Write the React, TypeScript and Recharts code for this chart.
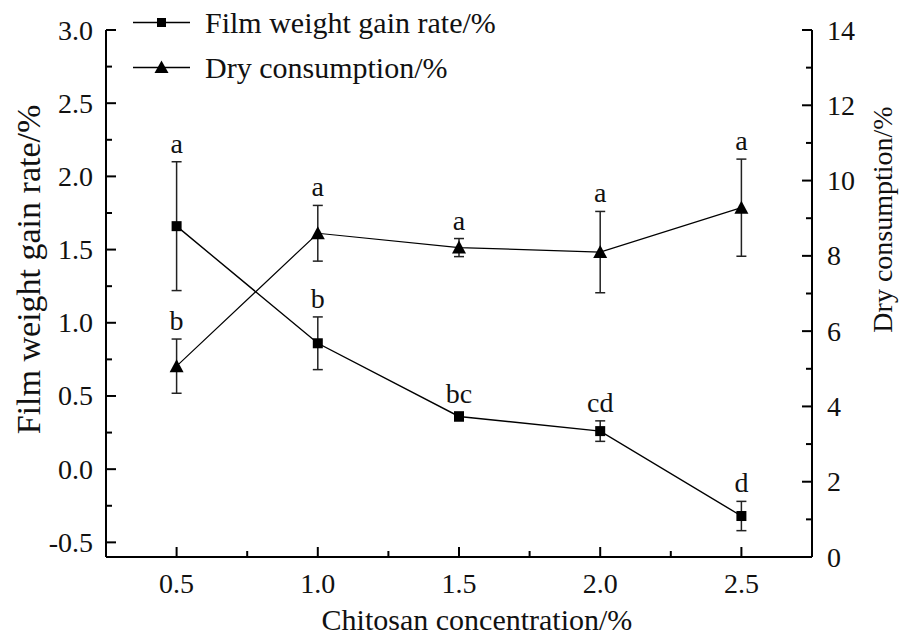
import React from 'react';
import { ComposedChart, Line, XAxis, YAxis, ErrorBar, Legend } from 'recharts';

// values
const concentrations = [0.5, 1.0, 1.5, 2.0, 2.5];
const filmGain = [1.66, 0.86, 0.36, 0.26, -0.32];
const filmGainErr = [0.44, 0.18, 0.03, 0.07, 0.1];
const filmLetters = ['a', 'b', 'bc', 'cd', 'd'];
const dryConsumption = [5.07, 8.6, 8.22, 8.1, 9.28];
const dryErr = [0.72, 0.74, 0.24, 1.08, 1.29];
const dryLetters = ['b', 'a', 'a', 'a', 'a'];

const seriesNames = ['Film weight gain rate/%', 'Dry consumption/%'];

const xTicks = [0.5, 0.75, 1.0, 1.25, 1.5, 1.75, 2.0, 2.25, 2.5];
const xLabels = [0.5, 1.0, 1.5, 2.0, 2.5];
const leftTicks = [-0.5, -0.25, 0, 0.25, 0.5, 0.75, 1.0, 1.25, 1.5, 1.75, 2.0, 2.25, 2.5, 2.75, 3.0];
const leftLabels = [-0.5, 0, 0.5, 1.0, 1.5, 2.0, 2.5, 3.0];
const rightTicks = [0, 1, 2, 3, 4, 5, 6, 7, 8, 9, 10, 11, 12, 13, 14];
const rightLabels = [0, 2, 4, 6, 8, 10, 12, 14];

const data = concentrations.map((c, i) => ({
    c,
    film: filmGain[i],
    filmErr: filmGainErr[i],
    filmTop: filmGain[i] + filmGainErr[i],
    dry: dryConsumption[i],
    dryErr: dryErr[i],
    dryTop: dryConsumption[i] + dryErr[i],
}));

const FONT = '"Liberation Serif", "Times New Roman", serif';
const INK = '#111';
const txt = (size: number) => ({ fontFamily: FONT, fontSize: size, fill: INK });

const isIn = (v: number, list: number[]) => list.some((m) => Math.abs(m - v) < 1e-6);

const LeftTick = (props: any) => {
    const { x, y, payload } = props;
    const major = isIn(payload.value, leftLabels);
    const ax = x + 13;
    return (
        <g>
            <line x1={ax} x2={ax + (major ? 10 : 6)} y1={y} y2={y} stroke="#000" strokeWidth={2} />
            {major && (
                <text x={x} y={y} textAnchor="end" dominantBaseline="central" style={txt(28)}>
                    {payload.value.toFixed(1)}
                </text>
            )}
        </g>
    );
};

const RightTick = (props: any) => {
    const { x, y, payload } = props;
    const major = isIn(payload.value, rightLabels);
    const ax = x - 15;
    return (
        <g>
            <line x1={ax} x2={ax - (major ? 10 : 6)} y1={y} y2={y} stroke="#000" strokeWidth={2} />
            {major && (
                <text x={x} y={y} textAnchor="start" dominantBaseline="central" style={txt(28)}>
                    {payload.value}
                </text>
            )}
        </g>
    );
};

const BottomTick = (props: any) => {
    const { x, y, payload } = props;
    const major = isIn(payload.value, xLabels);
    const ay = y - 26;
    return (
        <g>
            <line x1={x} x2={x} y1={ay} y2={ay - (major ? 10 : 6)} stroke="#000" strokeWidth={2} />
            {major && (
                <text x={x} y={y} textAnchor="middle" dominantBaseline="central" style={txt(28)}>
                    {payload.value.toFixed(1)}
                </text>
            )}
        </g>
    );
};

const SquareDot = (props: any) => {
    const { cx, cy, index } = props;
    if (cx == null || cy == null) return <g key={`sq-${index}`} />;
    return <rect key={`sq-${index}`} x={cx - 5} y={cy - 5} width={10} height={10} fill="#000" />;
};

const TriangleDot = (props: any) => {
    const { cx, cy, index } = props;
    if (cx == null || cy == null) return <g key={`tr-${index}`} />;
    return <polygon key={`tr-${index}`} points={`${cx},${cy - 7} ${cx - 7},${cy + 6} ${cx + 7},${cy + 6}`} fill="#000" />;
};

const letterLabel = (letters: string[]) => (props: any) => {
    const { x, y, index } = props;
    return (
        <text x={x} y={y - 9} textAnchor="middle" style={txt(28)}>
            {letters[index]}
        </text>
    );
};

const renderLegend = () => (
    <div style={{ fontFamily: FONT, fontSize: 30, color: INK }}>
        {seriesNames.map((name, i) => (
            <div key={name} style={{ display: 'flex', alignItems: 'center', height: 45, whiteSpace: 'nowrap' }}>
                <svg width={62} height={45}>
                    <line x1={3} x2={60} y1={22.5} y2={22.5} stroke="#000" strokeWidth={1.5} />
                    {i === 0 ? (
                        <rect x={27} y={18} width={9} height={9} fill="#000" />
                    ) : (
                        <polygon points="31.5,15.5 24.5,28 38.5,28" fill="#000" />
                    )}
                </svg>
                <span style={{ marginLeft: 13 }}>{name}</span>
            </div>
        ))}
    </div>
);

const App: React.FC = () => {
    return (
        <div style={{ position: 'absolute', left: 0, top: 0, width: 899, height: 635, background: '#fff' }}>
            <ComposedChart width={899} height={635} data={data} margin={{ top: 30, right: 0, bottom: 0, left: 0 }}>
                <XAxis
                    type="number"
                    dataKey="c"
                    domain={[0.25, 2.75]}
                    ticks={xTicks}
                    interval={0}
                    height={78}
                    tickSize={0}
                    tickMargin={26}
                    tick={<BottomTick />}
                    axisLine={{ stroke: '#000', strokeWidth: 2 }}
                    label={{
                        content: (p: any) => {
                            const vb = p.viewBox || { x: 106, y: 557, width: 706, height: 78 };
                            return (
                                <text x={vb.x + vb.width / 2 + 18} y={vb.y + 62} textAnchor="middle" dominantBaseline="central" style={txt(30)}>
                                    Chitosan concentration/%
                                </text>
                            );
                        },
                    }}
                />
                <YAxis
                    yAxisId="left"
                    type="number"
                    domain={[-0.6, 3.0]}
                    ticks={leftTicks}
                    interval={0}
                    width={106}
                    tickSize={0}
                    tickMargin={13}
                    tick={<LeftTick />}
                    axisLine={{ stroke: '#000', strokeWidth: 2 }}
                    label={{
                        content: (p: any) => {
                            const vb = p.viewBox || { x: 0, y: 30, width: 106, height: 527 };
                            const cx = vb.x + 28;
                            const cy = vb.y + vb.height / 2 - 24;
                            return (
                                <text x={cx} y={cy} transform={`rotate(-90, ${cx}, ${cy})`} textAnchor="middle" dominantBaseline="central" style={txt(34)}>
                                    Film weight gain rate/%
                                </text>
                            );
                        },
                    }}
                />
                <YAxis
                    yAxisId="right"
                    orientation="right"
                    type="number"
                    domain={[0, 14]}
                    ticks={rightTicks}
                    interval={0}
                    width={87}
                    tickSize={0}
                    tickMargin={15}
                    tick={<RightTick />}
                    axisLine={{ stroke: '#000', strokeWidth: 2 }}
                    label={{
                        content: (p: any) => {
                            const vb = p.viewBox || { x: 812, y: 30, width: 87, height: 527 };
                            const cx = vb.x + 70;
                            const cy = vb.y + vb.height / 2 - 74;
                            return (
                                <text x={cx} y={cy} transform={`rotate(-90, ${cx}, ${cy})`} textAnchor="middle" dominantBaseline="central" style={txt(28)}>
                                    Dry consumption/%
                                </text>
                            );
                        },
                    }}
                />
                <Legend
                    layout="vertical"
                    align="center"
                    verticalAlign="middle"
                    content={renderLegend}
                    wrapperStyle={{ left: 130, top: 0, width: 'auto', height: 'auto' }}
                />
                <Line
                    yAxisId="left"
                    type="linear"
                    dataKey="film"
                    name={seriesNames[0]}
                    stroke="#000"
                    strokeWidth={1.4}
                    dot={SquareDot}
                    activeDot={false}
                    isAnimationActive={false}
                >
                    <ErrorBar dataKey="filmErr" width={5} stroke="#222" strokeWidth={1.5} direction="y" />
                </Line>
                <Line
                    yAxisId="right"
                    type="linear"
                    dataKey="dry"
                    name={seriesNames[1]}
                    stroke="#000"
                    strokeWidth={1.2}
                    dot={TriangleDot}
                    activeDot={false}
                    isAnimationActive={false}
                >
                    <ErrorBar dataKey="dryErr" width={5} stroke="#222" strokeWidth={1.5} direction="y" />
                </Line>
                <Line
                    yAxisId="left"
                    dataKey="filmTop"
                    stroke="none"
                    dot={false}
                    activeDot={false}
                    legendType="none"
                    isAnimationActive={false}
                    label={letterLabel(filmLetters)}
                />
                <Line
                    yAxisId="right"
                    dataKey="dryTop"
                    stroke="none"
                    dot={false}
                    activeDot={false}
                    legendType="none"
                    isAnimationActive={false}
                    label={letterLabel(dryLetters)}
                />
            </ComposedChart>
        </div>
    );
};

export default App;
